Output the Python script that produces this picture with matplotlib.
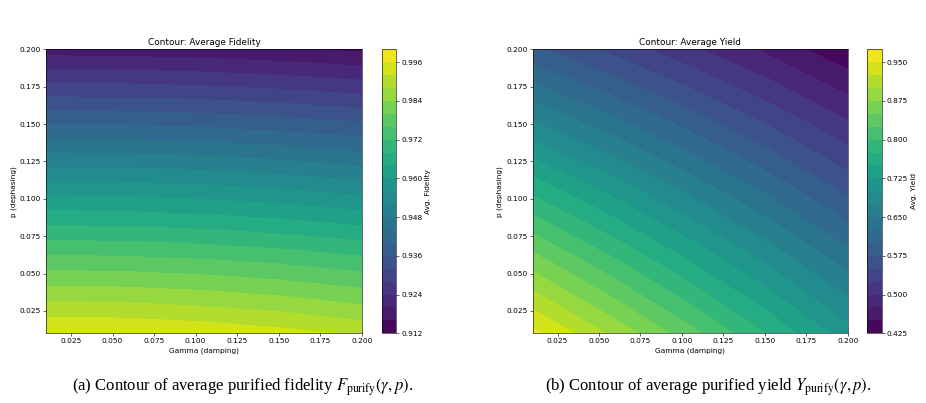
import matplotlib
matplotlib.use('Agg')
import matplotlib.pyplot as plt
import numpy as np

# grid
gamma_vals = [0.010, 0.0575, 0.105, 0.1525, 0.200]
p_vals = [0.010, 0.0575, 0.105, 0.1525, 0.200]

# rows follow p_vals, columns follow gamma_vals
fidelity_grid = [
    [0.9962, 0.9959, 0.9949, 0.9933, 0.9910],
    [0.9779, 0.9776, 0.9768, 0.9755, 0.9736],
    [0.9588, 0.9586, 0.9578, 0.9566, 0.9548],
    [0.9389, 0.9387, 0.9380, 0.9369, 0.9354],
    [0.9181, 0.9179, 0.9174, 0.9165, 0.9152],
]
yield_grid = [
    [0.957, 0.895, 0.834, 0.772, 0.710],
    [0.863, 0.807, 0.751, 0.696, 0.640],
    [0.769, 0.719, 0.669, 0.620, 0.570],
    [0.674, 0.631, 0.587, 0.544, 0.500],
    [0.580, 0.543, 0.505, 0.468, 0.430],
]

axis_ticks = [0.025, 0.050, 0.075, 0.100, 0.125, 0.150, 0.175, 0.200]
fid_cbar_ticks = [0.912, 0.924, 0.936, 0.948, 0.960, 0.972, 0.984, 0.996]
yld_cbar_ticks = [0.425, 0.500, 0.575, 0.650, 0.725, 0.800, 0.875, 0.950]

captions = [
    r'(a) Contour of average purified fidelity $F_{\mathrm{purify}}(\gamma, p)$.',
    r'(b) Contour of average purified yield $Y_{\mathrm{purify}}(\gamma, p)$.',
]

s = 0.53  # the panels are shrunk copies of default-size figures
plt.rcParams.update({
    'font.family': 'DejaVu Sans',
    'font.size': 10 * s,
    'axes.linewidth': 0.8 * s,
    'xtick.major.width': 0.8 * s,
    'ytick.major.width': 0.8 * s,
    'xtick.major.size': 3.5 * s,
    'ytick.major.size': 3.5 * s,
    'xtick.major.pad': 3.5 * s,
    'ytick.major.pad': 3.5 * s,
    'axes.labelpad': 4 * s,
    'axes.titlepad': 6 * s,
    'mathtext.fontset': 'stix',
})

W, H = 926, 403
fig = plt.figure(figsize=(W / 100, H / 100), dpi=100)


def box(x0, x1, y_top, y_bot):
    return [x0 / W, 1 - y_bot / H, (x1 - x0) / W, (y_bot - y_top) / H]


def panel(ax_box, cb_box, grid, levels, ticks, title, cb_label):
    ax = fig.add_axes(ax_box)
    cs = ax.contourf(gamma_vals, p_vals, np.array(grid), levels=levels, cmap='viridis')
    ax.set_xticks(axis_ticks)
    ax.set_yticks(axis_ticks)
    ax.set_xlim(gamma_vals[0], gamma_vals[-1])
    ax.set_ylim(p_vals[0], p_vals[-1])
    ax.set_xlabel('Gamma (damping)')
    ax.set_ylabel('p (dephasing)')
    ax.set_title(title, fontsize=12 * s)
    cax = fig.add_axes(cb_box)
    cb = fig.colorbar(cs, cax=cax, ticks=ticks)
    cb.set_label(cb_label)
    cb.outline.set_linewidth(0.8 * s)
    return ax


fid_levels = np.linspace(0.912, 1.000, 23)
yld_levels = np.linspace(0.425, 0.975, 23)

panel(box(46, 362, 49.3, 333.3), box(381.7, 396, 49.3, 333.3),
      fidelity_grid, fid_levels, fid_cbar_ticks,
      'Contour: Average Fidelity', 'Avg. Fidelity')
panel(box(532.7, 847.7, 49.3, 333.3), box(867.3, 881.7, 49.3, 333.3),
      yield_grid, yld_levels, yld_cbar_ticks,
      'Contour: Average Yield', 'Avg. Yield')

fig.text(243 / W, 1 - 387 / H, captions[0], ha='center', va='center',
         family='Liberation Serif', fontsize=12)
fig.text(708.5 / W, 1 - 387 / H, captions[1], ha='center', va='center',
         family='Liberation Serif', fontsize=12)

fig.savefig('out.png', dpi=100)
